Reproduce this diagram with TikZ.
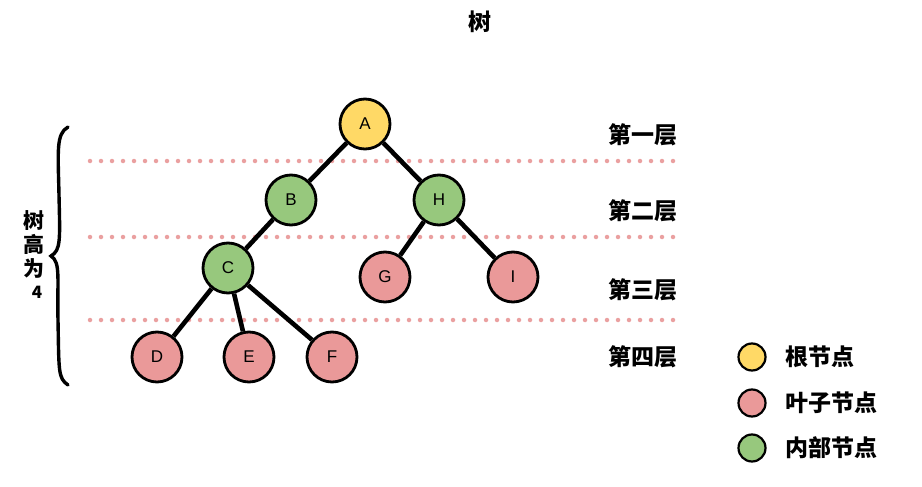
\documentclass[tikz,border=0pt]{standalone}
\usepackage{fontspec}
\setmainfont{Liberation Sans}
\newfontfamily\cjk{Noto Sans CJK SC}
\definecolor{rootc}{RGB}{255,217,102}
\definecolor{leafc}{RGB}{234,153,153}
\definecolor{innerc}{RGB}{151,200,125}
\definecolor{dotc}{RGB}{234,160,160}
\begin{document}
\begin{tikzpicture}[x=1pt,y=-1pt,
  tnode/.style={circle,draw=black,line width=2.8pt,minimum size=50pt,inner sep=0pt,font=\fontsize{17}{19}\selectfont},
  rootn/.style={tnode,fill=rootc},
  leafn/.style={tnode,fill=leafc},
  innern/.style={tnode,fill=innerc},
  edge/.style={line width=4.6pt,black},
  lvl/.style={dotc,line width=4.5pt,line cap=round,dash pattern=on 0pt off 11pt},
  lab/.style={font=\cjk\bfseries\fontsize{23}{26}\selectfont,inner sep=0pt},
  legc/.style={circle,draw=black,line width=2.2pt,minimum size=27pt,inner sep=0pt}]
\useasboundingbox (0,0) rectangle (922,487);
\node[lab] (title) at (480,22) {树};
% levels
\coordinate (l1a) at (90,161); \coordinate (l1b) at (678,161);
\coordinate (l2a) at (90,237); \coordinate (l2b) at (678,237);
\coordinate (l3a) at (90,320); \coordinate (l3b) at (678,320);
\draw[lvl] (l1a) -- (l1b);
\draw[lvl] (l2a) -- (l2b);
\draw[lvl] (l3a) -- (l3b);
% nodes
\node[rootn] (A) at (365,124) {A};
\node[innern] (B) at (291,200) {B};
\node[innern] (H) at (439,200) {H};
\node[innern] (C) at (228,268) {C};
\node[leafn] (G) at (385,277) {G};
\node[leafn] (I) at (513,277) {I};
\node[leafn] (D) at (157,357) {D};
\node[leafn] (E) at (249,357) {E};
\node[leafn] (F) at (332,357) {F};
\draw[edge] (A) -- (B);
\draw[edge] (A) -- (H);
\draw[edge] (B) -- (C);
\draw[edge] (H) -- (G);
\draw[edge] (H) -- (I);
\draw[edge] (C) -- (D);
\draw[edge] (C) -- (E);
\draw[edge] (C) -- (F);
% level labels
\node[lab] (t1) at (643,135) {第一层};
\node[lab] (t2) at (643,211) {第二层};
\node[lab] (t3) at (643,290) {第三层};
\node[lab] (t4) at (643,357) {第四层};
% brace
\draw[line width=3.4pt,line cap=round] (68,127) .. controls (56,134) and (58,150) .. (59,195)
  .. controls (60,240) and (61,250) .. (51,256)
  .. controls (61,262) and (57,280) .. (58,320)
  .. controls (59,372) and (58,378) .. (68,385);
\node[lab,font=\cjk\bfseries\fontsize{21}{24}\selectfont,align=center] (hl) at (34,244) {树\\高\\为};
\node[lab,font=\cjk\bfseries\fontsize{17}{18}\selectfont] (h4) at (37,292) {4};
% legend
\node[legc,fill=rootc] (k1) at (752,357) {};
\node[legc,fill=leafc] (k2) at (752,403) {};
\node[legc,fill=innerc] (k3) at (752,448) {};
\node[lab,anchor=west] (k1t) at (785,357) {根节点};
\node[lab,anchor=west] (k2t) at (785,403) {叶子节点};
\node[lab,anchor=west] (k3t) at (785,448) {内部节点};
\end{tikzpicture}
\end{document}
